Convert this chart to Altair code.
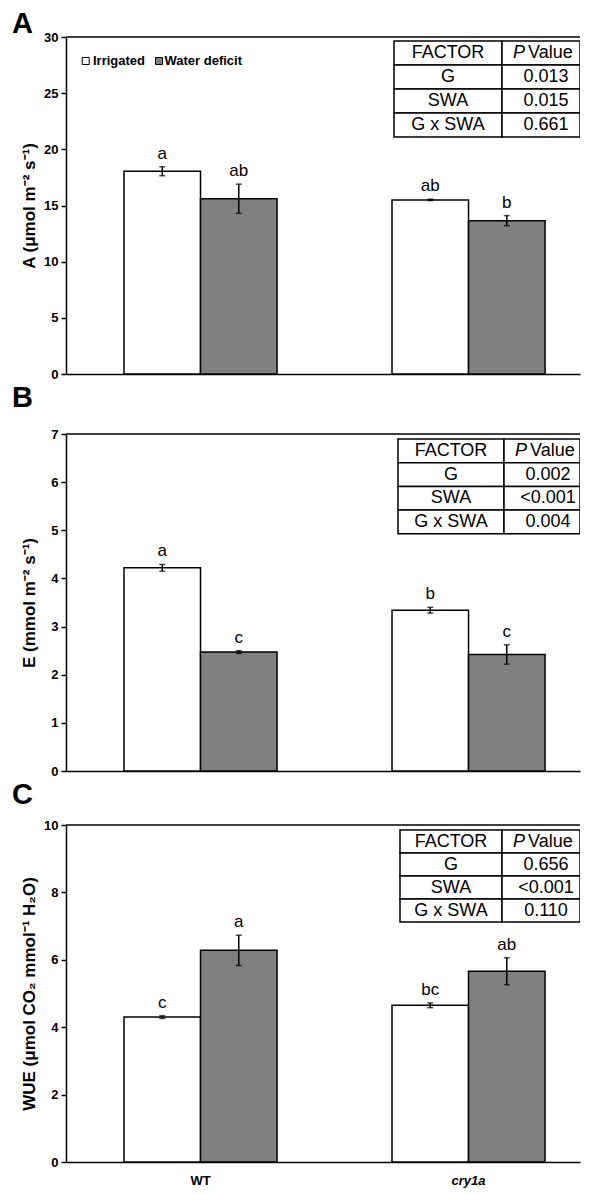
import altair as alt
import pandas as pd

# ---------------- data ----------------
genotypes = ["WT", "cry1a"]
treatments = ["Irrigated", "Water deficit"]
bar_colors = ["#ffffff", "#808080"]

# order: WT-Irrigated, WT-Water deficit, cry1a-Irrigated, cry1a-Water deficit
a_mean = [18.05, 15.6, 15.5, 13.65]
a_err = [0.4, 1.3, 0.06, 0.45]
a_letters = ["a", "ab", "ab", "b"]

e_mean = [4.22, 2.47, 3.34, 2.42]
e_err = [0.07, 0.03, 0.06, 0.2]
e_letters = ["a", "c", "b", "c"]

wue_mean = [4.3, 6.28, 4.65, 5.66]
wue_err = [0.04, 0.45, 0.07, 0.4]
wue_letters = ["c", "a", "bc", "ab"]

factors = ["G", "SWA", "G x SWA"]
a_p = ["0.013", "0.015", "0.661"]
e_p = ["0.002", "<0.001", "0.004"]
wue_p = ["0.656", "<0.001", "0.110"]

a_ticks = [0, 5, 10, 15, 20, 25, 30]
e_ticks = [0, 1, 2, 3, 4, 5, 6, 7]
wue_ticks = [0, 2, 4, 6, 8, 10]

# ---------------- layout ----------------
FONT = "Liberation Sans"
W = 514
LEGEND_SQ_X = [19.7, 93]
LEGEND_TX_X = [27, 98.5]
LEGEND_Y = 24


def bar_df(mean, err, letters):
    rows = []
    for i, g in enumerate(genotypes):
        for j, t in enumerate(treatments):
            k = 2 * i + j
            rows.append(dict(genotype=g, treatment=t, mean=mean[k],
                             lo=mean[k] - err[k], hi=mean[k] + err[k],
                             letter=letters[k]))
    return pd.DataFrame(rows)


def table_chart(pvals, H, left, split, top, rowh):
    right = W
    rects, texts, ptxt, vtxt = [], [], [], []
    col1 = ["FACTOR"] + factors
    lefts = [left, split]
    rights = [split, right]
    for r in range(4):
        y0 = top + r * rowh
        for c in range(2):
            rects.append(dict(x0=lefts[c], x1=rights[c], y0=y0, y1=y0 + rowh))
        yc = y0 + rowh / 2
        texts.append(dict(xc=(left + split) / 2, yc=yc, t=col1[r]))
        cx2 = split + 44
        if r == 0:
            ptxt.append(dict(xc=split + 11, yc=yc, t="P"))
            vtxt.append(dict(xc=split + 26, yc=yc, t="Value"))
        else:
            texts.append(dict(xc=cx2, yc=yc, t=pvals[r - 1]))
    tx = alt.Scale(domain=[0, W], nice=False, zero=False)
    ty = alt.Scale(domain=[0, H], nice=False, zero=False, reverse=True)
    rect = alt.Chart(pd.DataFrame(rects)).mark_rect(
        fill="white", stroke="black", strokeWidth=1.5, clip=True
    ).encode(
        x=alt.X("x0:Q", scale=tx, axis=None), x2="x1:Q",
        y=alt.Y("y0:Q", scale=ty, axis=None), y2="y1:Q",
    )
    enc = dict(x=alt.X("xc:Q", scale=tx, axis=None),
               y=alt.Y("yc:Q", scale=ty, axis=None), text="t:N")
    txt = alt.Chart(pd.DataFrame(texts)).mark_text(
        font=FONT, fontSize=18, align="center", baseline="middle", color="black"
    ).encode(**enc)
    pt = alt.Chart(pd.DataFrame(ptxt)).mark_text(
        font=FONT, fontSize=18, align="left", baseline="middle", fontStyle="italic", color="black"
    ).encode(**enc)
    vt = alt.Chart(pd.DataFrame(vtxt)).mark_text(
        font=FONT, fontSize=18, align="left", baseline="middle", color="black"
    ).encode(**enc)
    return alt.layer(rect, txt, pt, vt)


def legend_layers():
    layers = []
    for i, t in enumerate(treatments):
        d = pd.DataFrame({"t": [t]})
        layers.append(alt.Chart(d).mark_square(
            size=49, fill=bar_colors[i], stroke="black", strokeWidth=1, opacity=1
        ).encode(x=alt.value(LEGEND_SQ_X[i]), y=alt.value(LEGEND_Y)))
        layers.append(alt.Chart(d).mark_text(
            font=FONT, fontSize=13, fontWeight="bold", align="left",
            baseline="middle", color="black"
        ).encode(text="t:N", x=alt.value(LEGEND_TX_X[i]), y=alt.value(LEGEND_Y)))
    return layers


def panel(letter, letter_y, mean, err, letters, ticks, ytitle, pvals,
          H, tbl, legend, xlabels):
    df = bar_df(mean, err, letters)
    ymax = ticks[-1]
    yscale = alt.Scale(domain=[0, ymax], nice=False, zero=True)
    yaxis = alt.Axis(values=ticks, title=ytitle, titleFont=FONT, titleFontSize=17,
                     titleFontWeight="bold", titleColor="black", titlePadding=3,
                     labelFont=FONT, labelFontSize=13, labelFontWeight="bold",
                     labelColor="black", labelPadding=3, tickColor="black",
                     tickSize=5, tickWidth=1.5, domainColor="black", domainWidth=1.5,
                     grid=False, minExtent=25, maxExtent=25, format="d")
    if xlabels:
        xaxis = alt.Axis(title=None, ticks=False, tickSize=0, labelPadding=12,
                         labelFont=FONT, labelFontSize=13, labelFontWeight="bold",
                         labelColor="black", labelAngle=0, domainColor="black",
                         domainWidth=1.5,
                         labelFontStyle=alt.condition("datum.value == 'cry1a'",
                                                      alt.value("italic"),
                                                      alt.value("normal")))
    else:
        xaxis = alt.Axis(title=None, ticks=False, labels=False, domainColor="black",
                         domainWidth=1.5)
    x = alt.X("genotype:N", sort=genotypes,
              scale=alt.Scale(domain=genotypes, paddingInner=0.429,
                              paddingOuter=0.1734, align=0.624),
              axis=xaxis)
    xo = alt.XOffset("treatment:N", sort=treatments,
                     scale=alt.Scale(domain=treatments, paddingInner=0, paddingOuter=0))
    fill = alt.Fill("treatment:N", scale=alt.Scale(domain=treatments, range=bar_colors),
                    legend=None)

    base = alt.Chart(df)
    bars = base.mark_bar(stroke="black", strokeWidth=1.5).encode(
        x=x, xOffset=xo, y=alt.Y("mean:Q", scale=yscale, axis=yaxis), fill=fill)
    err_rule = base.mark_rule(color="black", strokeWidth=1.5).encode(
        x=x, xOffset=xo, y=alt.Y("lo:Q", scale=yscale, axis=yaxis), y2="hi:Q")
    cap_hi = base.mark_tick(color="black", thickness=1.5, size=6).encode(
        x=x, xOffset=xo, y=alt.Y("hi:Q", scale=yscale, axis=yaxis))
    cap_lo = base.mark_tick(color="black", thickness=1.5, size=6).encode(
        x=x, xOffset=xo, y=alt.Y("lo:Q", scale=yscale, axis=yaxis))
    labels = base.mark_text(font=FONT, fontSize=17, baseline="alphabetic", dy=-8,
                            color="black").encode(
        x=x, xOffset=xo, y=alt.Y("hi:Q", scale=yscale, axis=yaxis), text="letter:N")
    frame = alt.Chart(pd.DataFrame({"v": [ymax]})).mark_rule(
        color="black", strokeWidth=1.5).encode(y=alt.Y("v:Q", scale=yscale, axis=yaxis))
    panel_letter = alt.Chart(pd.DataFrame({"t": [letter]})).mark_text(
        font=FONT, fontSize=29, fontWeight="bold", align="left",
        baseline="alphabetic", color="black"
    ).encode(text="t:N", x=alt.value(-54), y=alt.value(letter_y))
    extra = legend_layers() if legend else []
    main = alt.layer(bars, err_rule, cap_hi, cap_lo, labels, frame, panel_letter, *extra)
    return alt.layer(main, table_chart(pvals, H, *tbl)).resolve_scale(
        x="independent", y="independent"
    ).properties(width=W, height=H)


pa = panel("A", -4, a_mean, a_err, a_letters, a_ticks, "A (μmol m⁻² s⁻¹)",
           a_p, 337, (328, 436, 4, 24), True, False)
pb = panel("B", -27, e_mean, e_err, e_letters, e_ticks, "E (mmol m⁻² s⁻¹)",
           e_p, 337, (332, 438, 5, 23.7), False, False)
pc = panel("C", -21, wue_mean, wue_err, wue_letters, wue_ticks,
           "WUE (μmol CO₂ mmol⁻¹ H₂O)", wue_p, 337, (334, 436, 5, 23), False, True)

chart = alt.vconcat(pa, pb, pc, spacing=1).properties(
    padding={"left": 3, "top": 1, "right": 0, "bottom": 0}
).configure_view(stroke="transparent")

chart.save("out.html", embed_options={"renderer": "svg", "actions": False})
